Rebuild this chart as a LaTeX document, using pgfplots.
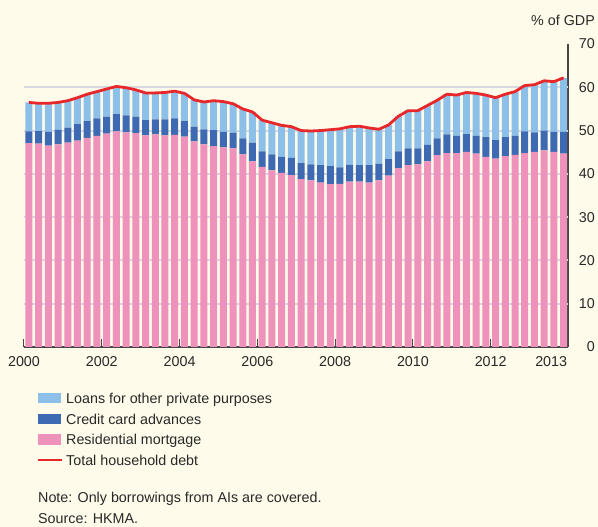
\documentclass[border=0pt]{standalone}
\usepackage{fontspec}
\setmainfont{Liberation Sans}
\usepackage{pgfplots}
\usepackage{pgfplotstable}
\pgfplotsset{compat=1.18}
\definecolor{bg}{RGB}{254,251,234}
\definecolor{lightb}{RGB}{141,192,232}
\definecolor{darkb}{RGB}{61,106,179}
\definecolor{pinkc}{RGB}{238,145,187}
\definecolor{redc}{RGB}{232,39,42}
\definecolor{gridc}{RGB}{216,216,226}
\definecolor{txt}{RGB}{40,40,40}
\definecolor{axc}{RGB}{70,70,70}

\pgfplotstableread{
x mort credit loans total
0 47.1 2.7 6.7 56.5
1 47.0 2.9 6.4 56.3
2 46.5 3.2 6.6 56.3
3 46.8 3.4 6.3 56.5
4 47.2 3.5 6.2 56.9
5 47.7 3.8 6.1 57.6
6 48.3 3.9 6.2 58.4
7 48.8 4.0 6.2 59.0
8 49.3 3.9 6.4 59.6
9 49.8 4.0 6.4 60.2
10 49.6 3.9 6.4 59.9
11 49.4 3.8 6.2 59.4
12 48.9 3.5 6.3 58.7
13 49.1 3.5 6.1 58.7
14 48.9 3.7 6.2 58.8
15 49.0 3.8 6.3 59.1
16 48.6 3.6 6.4 58.6
17 47.5 3.4 6.2 57.1
18 46.8 3.5 6.3 56.6
19 46.4 3.7 6.8 56.9
20 46.1 3.6 7.0 56.7
21 45.9 3.6 6.7 56.2
22 44.5 3.7 6.8 55.0
23 42.9 4.3 7.1 54.3
24 41.6 3.6 7.2 52.4
25 40.8 3.7 7.3 51.8
26 40.2 3.7 7.3 51.2
27 39.7 4.0 7.2 50.9
28 38.8 3.7 7.5 50.0
29 38.5 3.7 7.7 49.9
30 38.0 4.0 8.0 50.0
31 37.6 4.2 8.4 50.2
32 37.7 3.8 8.9 50.4
33 38.2 3.9 8.8 50.9
34 38.2 3.8 9.0 51.0
35 38.0 4.0 8.6 50.6
36 38.5 3.8 8.0 50.3
37 39.6 3.8 7.9 51.3
38 41.3 3.9 8.1 53.3
39 42.0 3.9 8.7 54.6
40 42.2 3.7 8.7 54.6
41 42.9 3.8 9.1 55.8
42 44.3 3.9 8.8 57.0
43 44.8 4.3 9.3 58.4
44 44.8 4.0 9.4 58.2
45 45.1 4.1 9.6 58.8
46 44.7 4.1 9.8 58.6
47 43.9 4.6 9.7 58.2
48 43.5 4.3 9.8 57.6
49 44.1 4.4 9.9 58.4
50 44.4 4.4 10.2 59.0
51 44.8 5.0 10.6 60.4
52 45.1 4.5 11.0 60.6
53 45.4 4.6 11.5 61.5
54 45.1 4.6 11.6 61.3
55 44.7 5.0 12.5 62.2
}\debt

\begin{document}
\begin{tikzpicture}[x=1pt,y=1pt]
\fill[bg] (0,0) rectangle (598,527);
\begin{axis}[
  at={(24pt,180pt)}, anchor=south west,
  scale only axis, width=544pt, height=303pt,
  xmin=-0.5, xmax=55.45, ymin=0, ymax=70,
  ybar stacked, bar width=7pt,
  axis x line*=bottom, axis y line*=right,
  axis line style={axc, line width=1.2pt},
  xtick={-0.5,7.5,15.5,23.5,31.5,39.5,47.5},
  xticklabels={2000,2002,2004,2006,2008,2010,2012},
  extra x ticks={53.72}, extra x tick labels={2013},
  extra x tick style={major tick length=0pt},
  tick align=inside, major tick length=8pt,
  x tick style={axc, line width=1pt},
  ytick={0,10,...,70},
  y tick style={draw=none},
  extra y ticks={10,20,30,40,50,60}, extra y tick labels={},
  extra y tick style={grid=major, major grid style={gridc, line width=2pt}},
  tick label style={font=\fontsize{14.3}{16}\selectfont, text=txt},
  /pgf/number format/assume math mode=true,
  yticklabel style={anchor=east, inner sep=0pt, xshift=27pt},
  xticklabel style={yshift=-6pt},
  clip=false,
]
\addplot[fill=pinkc, draw=none] table[x=x,y=mort]{\debt};
\addplot[fill=darkb, draw=none] table[x=x,y=credit]{\debt};
\addplot[fill=lightb, draw=none] table[x=x,y=loans]{\debt};
\end{axis}
\begin{axis}[
  at={(24pt,180pt)}, anchor=south west,
  scale only axis, width=544pt, height=303pt,
  xmin=-0.5, xmax=55.45, ymin=0, ymax=70,
  hide axis, clip=false,
]
\addplot[redc, line width=2.8pt, mark=none, line join=round] table[x=x,y=total]{\debt};
\end{axis}
% unit label
\node[anchor=base east, inner sep=0pt, text=txt, font=\fontsize{14.3}{16}\selectfont] at (595,501) {\% of GDP};
% legend
\begin{scope}[font=\fontsize{14.3}{16}\selectfont]
\fill[lightb] (38,527-403.3) rectangle (61,527-393.3);
\node[anchor=base west, inner sep=0pt, text=txt] at (66,527-403.5) {Loans for other private purposes};
\fill[darkb] (38,527-424.3) rectangle (61,527-414.3);
\node[anchor=base west, inner sep=0pt, text=txt] at (66,527-424.5) {Credit card advances};
\fill[pinkc] (38,527-445) rectangle (61,527-434.5);
\node[anchor=base west, inner sep=0pt, text=txt] at (66,527-445) {Residential mortgage};
\draw[redc, line width=2.4pt] (37.5,527-460) -- (61.5,527-460);
\node[anchor=base west, inner sep=0pt, text=txt] at (66,527-465.5) {Total household debt};
\node[anchor=base west, inner sep=0pt, text=txt] at (38,527-502.3) {Note: Only borrowings from AIs are covered.};
\node[anchor=base west, inner sep=0pt, text=txt] at (38,527-523.5) {Source: HKMA.};
\end{scope}
\pgfresetboundingbox
\useasboundingbox (0,0) rectangle (598,527);
\end{tikzpicture}
\end{document}
